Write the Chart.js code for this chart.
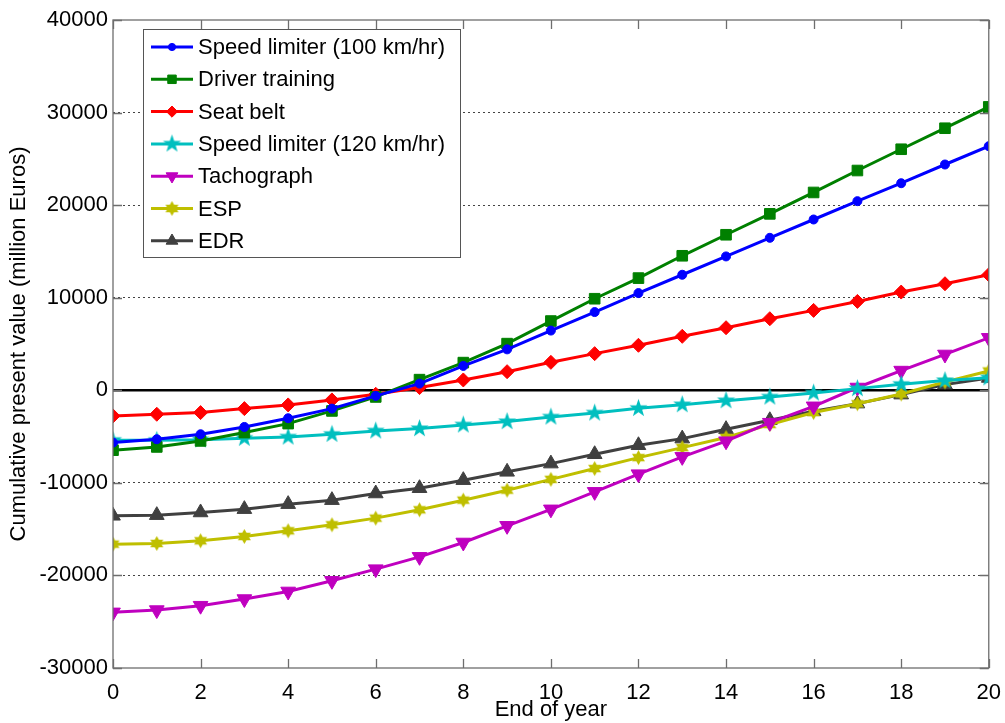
<!DOCTYPE html>
<html>
<head>
<meta charset="utf-8">
<title>Cumulative present value</title>
<script src="https://cdn.jsdelivr.net/npm/chart.js@4/dist/chart.umd.min.js"></script>
<style>
    html, body { margin: 0; padding: 0; background: #fff; }
    #wrap { width: 1005px; height: 723px; position: relative; }
</style>
</head>
<body>
<div id="wrap"><canvas id="npvgraph"></canvas></div>
<script>
// end of year (x axis)
var years = [0, 1, 2, 3, 4, 5, 6, 7, 8, 9, 10, 11, 12, 13, 14, 15, 16, 17, 18, 19, 20];

// cumulative present value in million Euros
var speedLimiter100 = [-5650, -5290, -4750, -3960, -3020, -1980, -610, 720, 2630, 4420, 6450,
    8450, 10500, 12480, 14460, 16470, 18450, 20430, 22370, 24390, 26370];
var driverTraining = [-6470, -6120, -5470, -4570, -3600, -2230, -720, 1150, 2990, 5040, 7480,
    9890, 12120, 14530, 16800, 19060, 21370, 23740, 26040, 28310, 30610];
var seatBelt = [-2770, -2590, -2410, -1980, -1580, -1040, -430, 290, 1115, 2010, 3020,
    3960, 4860, 5830, 6760, 7730, 8630, 9600, 10610, 11510, 12480];
var speedLimiter120 = [-5400, -5400, -5350, -5180, -5040, -4750, -4390, -4140, -3740, -3380, -2880,
    -2450, -1950, -1550, -1120, -720, -290, 180, 650, 1050, 1350];
var tachograph = [-23990, -23740, -23270, -22550, -21730, -20580, -19320, -17990, -16440, -14640, -12860,
    -10970, -9060, -7190, -5500, -3500, -1730, 300, 2130, 3870, 5670];
var esp = [-16620, -16550, -16260, -15790, -15180, -14530, -13810, -12910, -11870, -10790, -9620,
    -8450, -7270, -6190, -5100, -3700, -2400, -1450, -400, 900, 2090];
var edr = [-13560, -13490, -13200, -12840, -12300, -11870, -11150, -10580, -9710, -8810, -7920,
    -6910, -5940, -5220, -4200, -3240, -2270, -1440, -470, 610, 1330];

var seriesNames = ['Speed limiter (100 km/hr)', 'Driver training', 'Seat belt',
    'Speed limiter (120 km/hr)', 'Tachograph', 'ESP', 'EDR'];

var xTicks = [0, 2, 4, 6, 8, 10, 12, 14, 16, 18, 20];
var yTicks = [-30000, -20000, -10000, 0, 10000, 20000, 30000, 40000];

var FONT = 'Helvetica, "Liberation Sans", Arial, sans-serif';

// matlab like star markers (pentagram / hexagram) as small canvases
function starMarker(points, outer, inner, color) {
    var c = document.createElement('canvas');
    var s = Math.ceil(outer * 2 + 2);
    c.width = s;
    c.height = s;
    var ctx = c.getContext('2d');
    ctx.fillStyle = color;
    ctx.beginPath();
    for (var i = 0; i < points * 2; i++) {
        var r = (i % 2 == 0) ? outer : inner;
        var a = -Math.PI / 2 + i * Math.PI / points;
        var px = s / 2 + r * Math.cos(a);
        var py = s / 2 + r * Math.sin(a);
        if (i == 0) ctx.moveTo(px, py); else ctx.lineTo(px, py);
    }
    ctx.closePath();
    ctx.fill();
    return c;
}

function toPoints(values) {
    return values.map(function (v, i) { return { x: years[i], y: v }; });
}

function makeSet(label, values, color, style, radius, rotation) {
    return {
        label: label,
        data: toPoints(values),
        borderColor: color,
        backgroundColor: color,
        pointBackgroundColor: color,
        pointBorderColor: color,
        borderWidth: 3,
        pointBorderWidth: 1,
        pointStyle: style,
        pointRadius: radius,
        pointRotation: rotation || 0,
        tension: 0,
        fill: false
    };
}

var datasets = [
    makeSet(seriesNames[0], speedLimiter100, '#0000ff', 'circle', 4.5),
    makeSet(seriesNames[1], driverTraining, '#008000', 'rect', 7.5),
    makeSet(seriesNames[2], seatBelt, '#ff0000', 'rectRot', 7),
    makeSet(seriesNames[3], speedLimiter120, '#00bfbf', starMarker(5, 9.5, 3.8, '#00bfbf'), 9),
    makeSet(seriesNames[4], tachograph, '#bf00bf', 'triangle', 8.5, 180),
    makeSet(seriesNames[5], esp, '#bfbf00', starMarker(6, 7.5, 4.2, '#bfbf00'), 8),
    makeSet(seriesNames[6], edr, '#404040', 'triangle', 8.5)
];

// axes box, inward ticks and the legend box inside the plot
var framePlugin = {
    id: 'frame',
    afterDatasetsDraw: function (chart) {
        var ctx = chart.ctx;
        var a = chart.chartArea;
        var xs = chart.scales.x;
        var ys = chart.scales.y;
        ctx.save();
        ctx.strokeStyle = '#6e6e6e';
        ctx.lineWidth = 1.3;
        ctx.strokeRect(a.left, a.top, a.right - a.left, a.bottom - a.top);
        ctx.beginPath();
        xTicks.forEach(function (t) {
            var px = Math.round(xs.getPixelForValue(t)) + 0.5;
            ctx.moveTo(px, a.bottom); ctx.lineTo(px, a.bottom - 9);
            ctx.moveTo(px, a.top); ctx.lineTo(px, a.top + 9);
        });
        yTicks.forEach(function (t) {
            var py = Math.round(ys.getPixelForValue(t)) + 0.5;
            ctx.moveTo(a.left, py); ctx.lineTo(a.left + 9, py);
            ctx.moveTo(a.right, py); ctx.lineTo(a.right - 9, py);
        });
        ctx.stroke();

        // legend
        var lx = 143, ly = 29, lw = 317, lh = 228;
        ctx.fillStyle = '#ffffff';
        ctx.fillRect(lx, ly, lw, lh);
        ctx.strokeStyle = '#555555';
        ctx.lineWidth = 1;
        ctx.strokeRect(lx + 0.5, ly + 0.5, lw, lh);
        ctx.font = '22px ' + FONT;
        ctx.textBaseline = 'middle';
        chart.data.datasets.forEach(function (ds, i) {
            var cy = ly + 18 + i * 32.3;
            ctx.strokeStyle = ds.borderColor;
            ctx.lineWidth = 3;
            ctx.beginPath();
            ctx.moveTo(lx + 8, cy);
            ctx.lineTo(lx + 50, cy);
            ctx.stroke();
            ctx.fillStyle = ds.pointBackgroundColor;
            ctx.strokeStyle = ds.pointBorderColor;
            ctx.lineWidth = 1;
            Chart.helpers.drawPoint(ctx, {
                pointStyle: ds.pointStyle,
                rotation: ds.pointRotation,
                radius: ds.pointRadius * 0.8,
                borderWidth: 1
            }, lx + 29, cy);
            ctx.fillStyle = '#000';
            ctx.fillText(ds.label, lx + 55, cy + 1);
        });
        ctx.restore();
    }
};

function isEdge(v) {
    return v === 40000 || v === -30000;
}

var npvgraph = new Chart(document.getElementById('npvgraph'), {
    type: 'line',
    data: { datasets: datasets },
    options: {
        responsive: true,
        maintainAspectRatio: false,
        animation: false,
        layout: { padding: { left: 0, right: 12, top: 20, bottom: 0 } },
        plugins: {
            legend: { display: false },
            tooltip: { enabled: false }
        },
        scales: {
            x: {
                type: 'linear',
                min: 0,
                max: 20,
                afterFit: function (scale) { scale.height = 55; },
                afterBuildTicks: function (scale) {
                    scale.ticks = xTicks.map(function (v) { return { value: v }; });
                },
                ticks: {
                    color: '#000',
                    font: { family: FONT, size: 22 },
                    padding: 4,
                    maxRotation: 0
                },
                grid: { display: false },
                border: { display: false },
                title: {
                    display: true,
                    text: 'End of year',
                    color: '#000',
                    font: { family: FONT, size: 22 },
                    padding: { top: 0, bottom: 0 }
                }
            },
            y: {
                type: 'linear',
                min: -30000,
                max: 40000,
                afterFit: function (scale) { scale.width = 113; },
                afterBuildTicks: function (scale) {
                    scale.ticks = yTicks.map(function (v) { return { value: v }; });
                },
                ticks: {
                    color: '#000',
                    font: { family: FONT, size: 22 },
                    padding: 5,
                    callback: function (v) { return String(v); }
                },
                grid: {
                    drawTicks: false,
                    color: function (c) {
                        if (!c.tick || isEdge(c.tick.value)) return 'rgba(0,0,0,0)';
                        return c.tick.value === 0 ? '#000' : '#444';
                    },
                    lineWidth: function (c) {
                        return (c.tick && c.tick.value === 0) ? 2.5 : 1;
                    }
                },
                border: {
                    display: false,
                    dash: function (c) {
                        return (c.tick && c.tick.value === 0) ? [] : [2, 3];
                    }
                },
                title: {
                    display: true,
                    text: 'Cumulative present value (million Euros)',
                    color: '#000',
                    font: { family: FONT, size: 22 },
                    padding: { top: 6, bottom: 0 }
                }
            }
        }
    },
    plugins: [framePlugin]
});
</script>
</body>
</html>
